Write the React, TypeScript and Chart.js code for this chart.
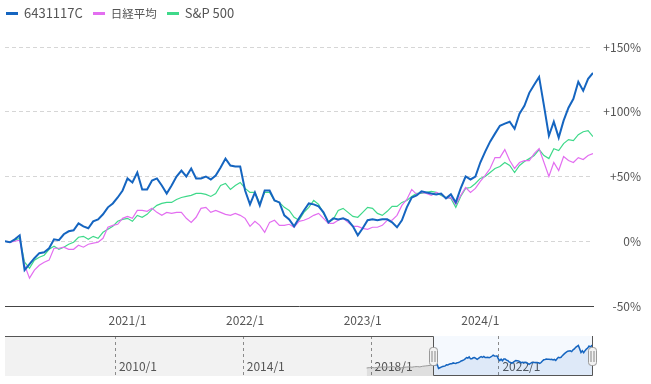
import React, { useEffect, useRef } from 'react';
import { Chart, registerables } from 'chart.js';
Chart.register(...registerables);

// ---- data ----
const SERIES_LABELS = ['6431117C', '日経平均', 'S&P 500'];
const SERIES_COLORS = ['#1565c0', '#e36ef0', '#3fd98a'];

// months relative to 2020/1 for the first point, and step between points
const START_MONTH = -0.5;
const STEP_MONTH = 0.5;

const FUND_PCT = [
  0, -0.8, 1.5, 4.6, -22.3, -17.7, -13.1, -9.2, -8.5, -5.4,
  1.5, 0.8, 5.4, 7.7, 8.5, 13.8, 11.5, 10.0, 15.4, 16.9,
  20.8, 26.2, 29.2, 33.8, 39.2, 48.5, 45.4, 53.1, 40.0, 40.0,
  46.9, 48.5, 43.1, 36.9, 43.1, 50.0, 54.6, 50.0, 56.2, 48.5,
  48.5, 50.0, 47.7, 50.8, 56.9, 63.8, 58.5, 57.7, 57.7, 39.2,
  28.5, 37.7, 27.7, 39.2, 39.2, 31.5, 30.0, 20.0, 16.9, 11.5,
  17.7, 23.8, 29.2, 28.5, 26.9, 22.3, 14.6, 17.7, 16.9, 17.7,
  16.2, 11.5, 4.6, 10.0, 16.2, 16.9, 16.2, 16.9, 16.9, 14.6,
  10.8, 16.2, 26.2, 33.8, 35.4, 38.5, 37.7, 36.9, 36.2, 36.9,
  33.1, 36.2, 30.0, 40.8, 50.0, 47.7, 50.0, 60.8, 69.2, 76.9,
  83.1, 89.2, 90.8, 92.3, 86.9, 98.5, 104.6, 114.6, 120.8, 126.9,
  104.6, 81.5, 92.3, 80.0, 93.1, 103.1, 110.0, 123.1, 116.2, 125.4,
  130.0,
];

const NIKKEI_PCT = [
  0, -0.8, 0, 0.8, -18.5, -28.5, -22.3, -18.5, -16.2, -14.6,
  -5.4, -5.4, -4.6, -6.2, -6.2, -3.1, -4.6, -2.3, -1.5, -0.8,
  2.3, 10.8, 12.3, 13.1, 17.7, 19.2, 17.7, 23.8, 23.8, 23.1,
  25.4, 22.3, 20.0, 22.3, 21.5, 22.3, 22.3, 17.7, 14.6, 18.5,
  25.4, 26.2, 22.3, 23.8, 22.3, 20.8, 20.0, 21.5, 20.0, 17.7,
  11.5, 15.4, 12.3, 6.9, 14.6, 16.2, 12.3, 12.3, 13.1, 10.8,
  15.4, 16.2, 17.7, 20.0, 21.5, 17.7, 13.8, 13.8, 16.2, 17.7,
  14.6, 11.5, 11.5, 10.0, 9.2, 10.8, 10.8, 12.3, 16.2, 16.2,
  20.0, 27.7, 32.3, 40.0, 36.2, 37.7, 36.9, 35.4, 37.7, 36.2,
  33.1, 33.8, 28.5, 35.4, 41.5, 37.7, 40.8, 46.2, 50.8, 56.2,
  64.6, 64.6, 70.8, 62.3, 56.2, 60.8, 62.3, 62.3, 67.7, 71.5,
  60.8, 50.0, 60.8, 54.6, 65.4, 62.3, 60.8, 64.6, 63.1, 66.2,
  67.7,
];

const SP500_PCT = [
  0, -0.8, 0.8, 2.3, -16.2, -20.8, -14.6, -12.3, -10.8, -6.2,
  -3.8, -6.2, -4.6, -2.3, -0.8, 3.1, 3.8, 1.5, 3.8, 2.3,
  6.9, 9.2, 11.5, 15.4, 16.9, 17.7, 15.4, 20.0, 18.5, 20.8,
  24.6, 27.7, 29.2, 30.0, 30.0, 32.3, 33.8, 34.6, 35.4, 36.9,
  36.9, 36.2, 34.6, 36.9, 43.1, 44.6, 40.0, 43.1, 45.4, 40.8,
  37.7, 37.7, 29.2, 37.7, 37.7, 31.5, 30.0, 26.2, 23.8, 18.5,
  16.2, 22.3, 26.2, 31.5, 28.5, 21.5, 14.6, 16.9, 23.8, 25.4,
  22.3, 19.2, 18.5, 22.3, 26.2, 25.4, 21.5, 20.0, 23.1, 26.9,
  26.9, 30.0, 31.5, 34.6, 36.9, 36.9, 37.7, 38.5, 37.7, 35.4,
  33.8, 33.1, 26.2, 34.6, 40.8, 41.5, 44.6, 48.5, 50.0, 53.1,
  56.2, 57.7, 60.8, 58.5, 53.1, 58.5, 61.5, 63.8, 66.2, 70.8,
  66.2, 63.8, 71.5, 70.0, 75.4, 78.5, 77.7, 82.3, 84.6, 85.4,
  80.8,
];

const Y_MIN = -50;
const Y_MAX = 150;
const Y_STEP = 50;
const X_TICK_MONTHS = [12, 24, 36, 48];
const X_TICK_LABELS = ['2021/1', '2022/1', '2023/1', '2024/1'];

// navigator: monthly fund history before the main range (same % basis)
const NAV_HISTORY_PCT = [
  -19, -17, -16, -18, -15, -14, -13, -12, -14, -11, -10, -16, -22,
  -18, -15, -13, -12, -14, -11, -10, -12, -8, -6, -4, -2, 0,
];
const NAV_START_YEAR = 2006.56;
const NAV_Y_MIN = -71;
const NAV_Y_MAX = 188;
const NAV_TICK_YEARS = [2010, 2014, 2018, 2022];
const NAV_TICK_LABELS = ['2010/1', '2014/1', '2018/1', '2022/1'];

const FONT = "'Noto Sans CJK JP', 'Noto Sans', sans-serif";

const monthOf = (i: number) => START_MONTH + STEP_MONTH * i;
const toXY = (arr: number[]) => arr.map((v, i) => ({ x: monthOf(i), y: v }));
const hasCJK = (s: string) => /[\u3000-\u9fff]/.test(s);

export default function App() {
  const mainRef = useRef<HTMLCanvasElement | null>(null);
  const navRef = useRef<HTMLCanvasElement | null>(null);

  useEffect(() => {
    Chart.defaults.font.family = FONT;
    Chart.defaults.font.size = 12;
    Chart.defaults.color = '#666';

    const series = [FUND_PCT, NIKKEI_PCT, SP500_PCT];
    const lastMonth = monthOf(FUND_PCT.length - 1);

    const main = new Chart(mainRef.current!, {
      type: 'line',
      data: {
        datasets: series.map((arr, k) => ({
          label: SERIES_LABELS[k],
          data: toXY(arr),
          borderColor: SERIES_COLORS[k],
          borderWidth: k === 0 ? 2 : 1.2,
          pointRadius: 0,
          tension: 0,
          fill: false,
        })),
      },
      options: {
        animation: false,
        responsive: false,
        events: [],
        layout: { padding: { left: 5, right: 10, top: 47, bottom: 0 } },
        plugins: { legend: { display: false }, tooltip: { enabled: false } },
        scales: {
          x: {
            type: 'linear',
            min: START_MONTH,
            max: lastMonth,
            grid: { display: false, drawTicks: false },
            border: { display: true, color: '#444', width: 1 },
            afterBuildTicks: (scale: any) => {
              scale.ticks = X_TICK_MONTHS.map((v) => ({ value: v }));
            },
            afterFit: (scale: any) => {
              scale.height = 24;
            },
            ticks: {
              autoSkip: false,
              maxRotation: 0,
              padding: 7,
              color: '#555',
              callback: (v: any) => {
                const idx = X_TICK_MONTHS.indexOf(Number(v));
                return idx >= 0 ? X_TICK_LABELS[idx] : '';
              },
            },
          },
          y: {
            type: 'linear',
            position: 'right',
            min: Y_MIN,
            max: Y_MAX,
            border: { display: false, dash: [4, 3] },
            grid: {
              drawTicks: false,
              color: (ctx: any) => (ctx.tick && ctx.tick.value === Y_MIN ? 'rgba(0,0,0,0)' : '#d6d6d6'),
            },
            afterFit: (scale: any) => {
              scale.width = 48;
            },
            ticks: {
              stepSize: Y_STEP,
              padding: 10,
              crossAlign: 'far',
              color: '#555',
              callback: (v: any) => (Number(v) > 0 ? `+${v}%` : `${v}%`),
            },
          },
        },
      },
    } as any);

    // navigator
    const navHistory = NAV_HISTORY_PCT.map((v, j) => ({
      x: 2020 + START_MONTH / 12 - (NAV_HISTORY_PCT.length - 1 - j) / 12,
      y: v,
    }));
    const navFund = FUND_PCT.map((v, i) => ({ x: 2020 + monthOf(i) / 12, y: v }));
    const selStart = navFund[0].x;
    const selEnd = navFund[navFund.length - 1].x;

    const navPlugin = {
      id: 'navDeco',
      beforeDatasetsDraw(chart: any) {
        const { ctx, chartArea: a, scales } = chart;
        const x = scales.x;
        const sx = x.getPixelForValue(selStart);
        const ex = x.getPixelForValue(selEnd);
        ctx.save();
        ctx.fillStyle = '#f2f2f2';
        ctx.fillRect(a.left, a.top, a.width, a.height);
        ctx.fillStyle = '#f5f9fe';
        ctx.fillRect(sx, a.top, ex - sx, a.height);
        ctx.strokeStyle = '#8a8a8a';
        ctx.lineWidth = 1;
        ctx.setLineDash([3, 3]);
        NAV_TICK_YEARS.forEach((yr) => {
          const px = Math.round(x.getPixelForValue(yr)) + 0.5;
          ctx.beginPath();
          ctx.moveTo(px, a.top);
          ctx.lineTo(px, a.bottom);
          ctx.stroke();
        });
        ctx.setLineDash([]);
        ctx.fillStyle = '#555';
        ctx.font = `12px ${FONT}`;
        ctx.textAlign = 'left';
        ctx.textBaseline = 'middle';
        NAV_TICK_YEARS.forEach((yr, k) => {
          const px = x.getPixelForValue(yr);
          ctx.fillText(NAV_TICK_LABELS[k], px + 4, a.bottom - 10);
        });
        ctx.restore();
      },
      afterDatasetsDraw(chart: any) {
        const { ctx, chartArea: a, scales } = chart;
        const x = scales.x;
        const sx = Math.round(x.getPixelForValue(selStart)) + 0.5;
        const ex = Math.round(x.getPixelForValue(selEnd)) - 0.5;
        ctx.save();
        ctx.strokeStyle = '#555';
        ctx.lineWidth = 1;
        ctx.beginPath();
        ctx.moveTo(a.left, a.top + 0.5);
        ctx.lineTo(sx, a.top + 0.5);
        ctx.lineTo(sx, a.bottom - 0.5);
        ctx.lineTo(ex, a.bottom - 0.5);
        ctx.lineTo(ex, a.top);
        ctx.stroke();
        [sx, ex].forEach((px) => {
          ctx.beginPath();
          (ctx as any).roundRect(px - 4, a.top + 11.5, 8, 18, 3);
          ctx.fillStyle = '#f2f2f2';
          ctx.fill();
          ctx.strokeStyle = '#999';
          ctx.stroke();
          ctx.beginPath();
          ctx.moveTo(px - 1.5, a.top + 15);
          ctx.lineTo(px - 1.5, a.top + 26);
          ctx.moveTo(px + 1.5, a.top + 15);
          ctx.lineTo(px + 1.5, a.top + 26);
          ctx.strokeStyle = '#888';
          ctx.stroke();
        });
        ctx.restore();
      },
    };

    const nav = new Chart(navRef.current!, {
      type: 'line',
      data: {
        datasets: [
          {
            data: navFund,
            borderColor: SERIES_COLORS[0],
            borderWidth: 1.5,
            backgroundColor: 'rgba(21,101,192,0.10)',
            fill: 'start',
            pointRadius: 0,
            tension: 0,
          },
          {
            data: navHistory,
            borderColor: '#9a9a9a',
            borderWidth: 1,
            backgroundColor: 'rgba(0,0,0,0.08)',
            fill: 'start',
            pointRadius: 0,
            tension: 0,
          },
        ],
      },
      options: {
        animation: false,
        responsive: false,
        events: [],
        layout: { padding: { left: 5, right: 58, top: 6, bottom: 8 } },
        plugins: { legend: { display: false }, tooltip: { enabled: false } },
        scales: {
          x: { type: 'linear', display: false, min: NAV_START_YEAR, max: selEnd },
          y: { type: 'linear', display: false, min: NAV_Y_MIN, max: NAV_Y_MAX },
        },
      },
      plugins: [navPlugin],
    } as any);

    return () => {
      main.destroy();
      nav.destroy();
    };
  }, []);

  return (
    <div style={{ position: 'absolute', left: 0, top: 0, width: 651, height: 384, background: '#fff', overflow: 'hidden' }}>
      <canvas ref={mainRef} width={651} height={330} style={{ position: 'absolute', left: 0, top: 0, display: 'block' }} />
      <canvas ref={navRef} width={651} height={54} style={{ position: 'absolute', left: 0, top: 330, display: 'block' }} />
      <div
        style={{
          position: 'absolute',
          left: 6,
          top: 4,
          display: 'flex',
          alignItems: 'center',
          fontFamily: FONT,
          fontSize: 13,
          lineHeight: '18px',
          color: '#555',
          whiteSpace: 'nowrap',
        }}
      >
        {SERIES_LABELS.map((label, k) => (
          <span key={label} style={{ display: 'inline-flex', alignItems: 'center', marginRight: 10 }}>
            <span style={{ display: 'inline-block', width: 12, height: 3, background: SERIES_COLORS[k], marginRight: 6 }} />
            <span style={{ fontSize: hasCJK(label) ? 11.5 : 13 }}>{label}</span>
          </span>
        ))}
      </div>
    </div>
  );
}
